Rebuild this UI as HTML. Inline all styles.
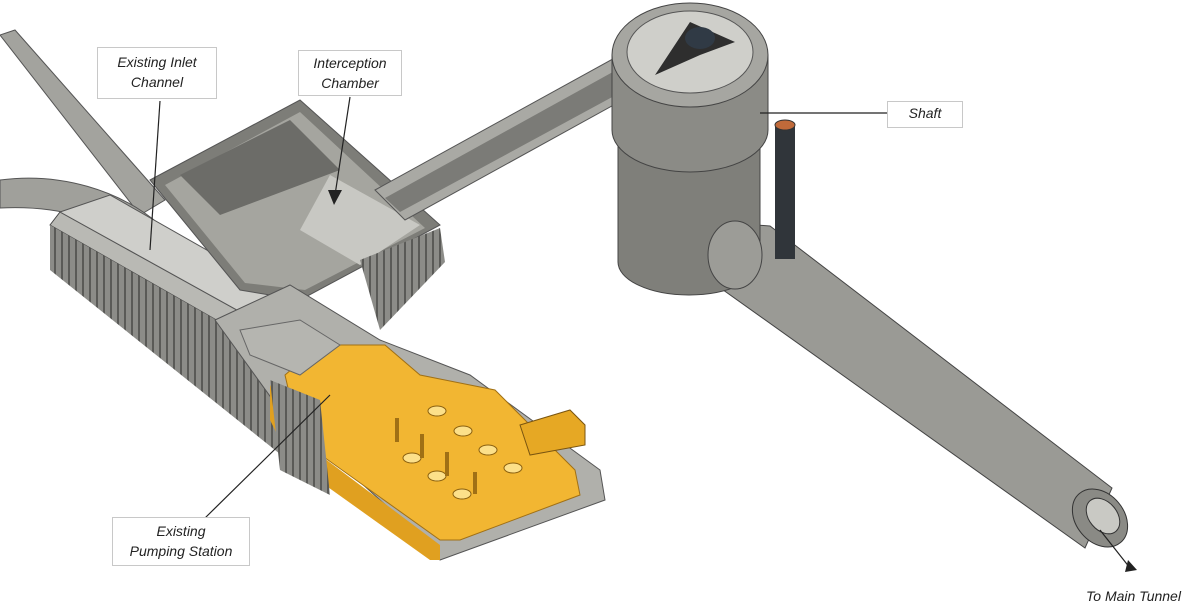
<!DOCTYPE html>
<html><head><meta charset="utf-8"><style>
html,body{margin:0;padding:0;background:#fff;}
svg{display:block}
.lbl{position:absolute;background:#fff;border:1px solid #c8c8c8;font-family:"Liberation Sans",sans-serif;font-style:italic;font-size:14px;color:#222;text-align:center;line-height:20px;}
</style></head><body>
<div style="position:relative;width:1200px;height:609px;overflow:hidden">
<svg width="1200" height="609" viewBox="0 0 1200 609">
<defs>
<pattern id="piles" width="7" height="10" patternUnits="userSpaceOnUse"><rect width="7" height="10" fill="#8c8c88"/><rect x="5" width="2" height="10" fill="#5a5a57"/></pattern>
</defs>
<polygon points="0,35 15,30 165,200 140,215" fill="#a3a39e" stroke="#555" stroke-width="1"/>
<path d="M0,180 C60,172 120,190 160,225 L140,250 C110,220 60,205 0,208 Z" fill="#a0a09b" stroke="#555"/>
<polygon points="50,225 60,212 300,345 290,362" fill="#b9b9b4" stroke="#444"/>
<polygon points="50,225 290,362 300,470 50,270" fill="url(#piles)"/>
<polygon points="60,212 110,195 330,320 300,345" fill="#cfcfcb" stroke="#555"/>
<polygon points="150,180 300,100 440,225 300,300 240,290" fill="#7d7d78" stroke="#555"/>
<polygon points="165,185 300,112 425,228 305,290 245,283" fill="#a5a59f"/>
<polygon points="180,175 290,120 340,170 220,215" fill="#6c6c68"/>
<polygon points="330,175 420,225 360,265 300,230" fill="#c8c8c3"/>
<polygon points="360,260 440,228 445,262 380,330" fill="url(#piles)"/>
<polygon points="375,190 620,55 650,85 405,220" fill="#a9a9a4" stroke="#555"/>
<polygon points="385,198 620,68 640,82 400,212" fill="#7b7b77"/>
<polygon points="215,320 290,285 380,340 470,375 600,470 605,500 440,560 430,545 280,410" fill="#b0b0ab" stroke="#555"/>
<polygon points="285,375 320,345 385,345 420,375 495,390 575,470 580,495 460,540 440,540 300,440" fill="#f2b632" stroke="#a07015"/>
<polygon points="270,385 300,440 440,545 440,560 430,560 290,460 270,420" fill="#e0a020"/>
<polygon points="240,330 300,320 340,345 300,375 250,355" fill="#b5b5b0" stroke="#666"/>
<polygon points="270,380 280,470 330,495 320,400" fill="url(#piles)"/>
<polygon points="520,425 570,410 585,425 585,445 530,455" fill="#e6a824" stroke="#7a5510"/>
<g fill="#fce08a" stroke="#8a6010">
<ellipse cx="437" cy="411" rx="9" ry="5"/><ellipse cx="463" cy="431" rx="9" ry="5"/><ellipse cx="488" cy="450" rx="9" ry="5"/><ellipse cx="513" cy="468" rx="9" ry="5"/><ellipse cx="412" cy="458" rx="9" ry="5"/><ellipse cx="437" cy="476" rx="9" ry="5"/><ellipse cx="462" cy="494" rx="9" ry="5"/>
</g>
<g stroke="#a07015" stroke-width="4"><line x1="397" y1="418" x2="397" y2="442"/><line x1="422" y1="434" x2="422" y2="458"/><line x1="447" y1="452" x2="447" y2="476"/><line x1="475" y1="472" x2="475" y2="494"/></g>
<!-- tunnel -->
<polygon points="720,222 770,226 1112,488 1085,548 712,282" fill="#9a9a95" stroke="#444"/>
<ellipse cx="1100" cy="518" rx="24" ry="32" transform="rotate(-40 1100 518)" fill="#8a8a85" stroke="#333"/>
<ellipse cx="1103" cy="516" rx="14" ry="20" transform="rotate(-40 1103 516)" fill="#c9c9c4" stroke="#333"/>
<!-- shaft -->
<path d="M618,70 L618,262 A71,33 0 0 0 760,262 L760,70 Z" fill="#7f7f7a" stroke="#444"/>
<path d="M612,55 L612,130 A78,42 0 0 0 768,130 L768,55 Z" fill="#8b8b86" stroke="#444"/>
<ellipse cx="690" cy="55" rx="78" ry="52" fill="#a6a6a1" stroke="#444"/>
<ellipse cx="690" cy="52" rx="63" ry="41" fill="#cfcfca" stroke="#555"/>
<polygon points="655,75 690,22 735,42 700,55" fill="#2e2e2e"/>
<ellipse cx="700" cy="38" rx="15" ry="11" fill="#303a45"/>
<ellipse cx="735" cy="255" rx="27" ry="34" fill="#9c9c97" stroke="#444"/>
<rect x="775" y="124" width="20" height="135" fill="#30353a"/>
<ellipse cx="785" cy="125" rx="10" ry="5" fill="#c06a3a" stroke="#333"/>
<g stroke="#222" stroke-width="1.2" fill="none">
<line x1="160" y1="101" x2="150" y2="250"/>
<line x1="350" y1="97" x2="335" y2="195"/>
<line x1="887" y1="113" x2="760" y2="113"/>
<line x1="205" y1="518" x2="330" y2="395"/>
<line x1="1100" y1="530" x2="1130" y2="568"/>
</g>
<polygon points="328,190 342,190 334,205" fill="#222"/>
<polygon points="1128,560 1137,570 1125,572" fill="#222"/>
</svg>
<div class="lbl" style="left:97px;top:47px;width:120px;height:52px;padding-top:4px;box-sizing:border-box">Existing Inlet<br>Channel</div>
<div class="lbl" style="left:298px;top:50px;width:104px;height:46px;padding-top:2px;box-sizing:border-box">Interception<br>Chamber</div>
<div class="lbl" style="left:887px;top:101px;width:74px;height:25px;line-height:23px">Shaft</div>
<div class="lbl" style="left:112px;top:517px;width:138px;height:49px;padding-top:3px;box-sizing:border-box">Existing<br>Pumping Station</div>
<div style="position:absolute;left:1086px;top:588px;font-family:'Liberation Sans',sans-serif;font-style:italic;font-size:14px;color:#222">To Main Tunnel</div>
</div>
</body></html>
